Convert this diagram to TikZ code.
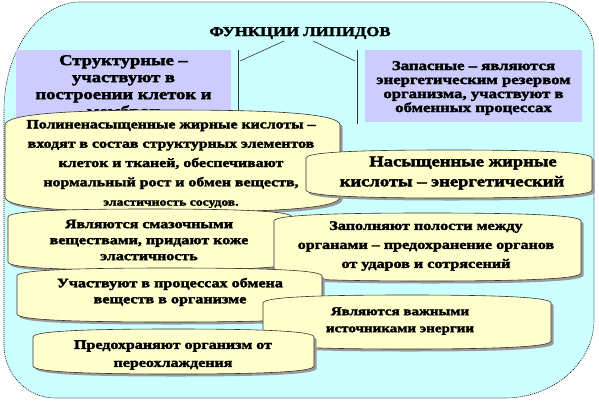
\documentclass[tikz,border=0pt]{standalone}
\usepackage{fontspec}
\newfontfamily\rfont{Liberation Serif Bold}[FakeStretch=1.24,FakeBold=2.5]
\definecolor{bgcyan}{HTML}{CCFFFF}
\definecolor{bubfill}{HTML}{FFFFCC}
\definecolor{lav}{HTML}{CCCCFF}
\definecolor{shad}{HTML}{9A9A9A}
\definecolor{bubline}{HTML}{333333}
\newcommand\bubshape[5]{% L T R B d
  \pgfmathsetmacro\bM{(#1+#3)/2}%
  \pgfmathsetmacro\bK{(#3-#1)*0.22}%
  \pgfmathsetmacro\bTa{#2+#5}%
  \pgfmathsetmacro\bTb{#2+0.2*#5}%
  \pgfmathsetmacro\bBa{#4-#5}%
  \pgfmathsetmacro\bBb{#4-0.2*#5}%
  \pgfmathsetmacro\bLk{#1+\bK}%
  \pgfmathsetmacro\bRk{#3-\bK}%
  \path[fill=shad] ({#1+2.5},{\bTa+2.5}) -- ({#1+2.5},{\bBa+2.5}) .. controls ({#1+2.5},{\bBb+2.5}) and ({\bLk+2.5},{#4+2.5}) .. ({\bM+2.5},{#4+2.5}) .. controls ({\bRk+2.5},{#4+2.5}) and ({#3+2.5},{\bBb+2.5}) .. ({#3+2.5},{\bBa+2.5}) -- ({#3+2.5},{\bTa+2.5}) .. controls ({#3+2.5},{\bTb+2.5}) and ({\bRk+2.5},{#2+2.5}) .. ({\bM+2.5},{#2+2.5}) .. controls ({\bLk+2.5},{#2+2.5}) and ({#1+2.5},{\bTb+2.5}) .. cycle;
  \path[bubstyle] (#1,\bTa) -- (#1,\bBa) .. controls (#1,\bBb) and (\bLk,#4) .. (\bM,#4) .. controls (\bRk,#4) and (#3,\bBb) .. (#3,\bBa) -- (#3,\bTa) .. controls (#3,\bTb) and (\bRk,#2) .. (\bM,#2) .. controls (\bLk,#2) and (#1,\bTb) .. cycle;
}
\begin{document}
\begin{tikzpicture}[x=1pt,y=-1pt,
  bubstyle/.style={fill=bubfill,draw=bubline,line width=0.6pt},
  txt/.style={font=\rfont,align=center,inner sep=0pt},
  conn/.style={draw=black!80,line width=0.6pt}]
\useasboundingbox (0,0) rectangle (599,402);
% background
\path[fill=bgcyan,draw=black,line width=0.6pt,dash pattern=on 1pt off 1pt]
  (4,110) -- (4,345) .. controls (4,374) and (27,398) .. (55,398)
  -- (505,398) .. controls (553,398) and (594,363) .. (594,320)
  -- (594,50) .. controls (594,24) and (571,2) .. (545,2)
  -- (80,2) .. controls (39,2) and (4,51) .. cycle;
% title
\node[txt,font=\rfont\fontsize{13.5}{15}\selectfont] (title) at (300,33) {ФУНКЦИИ ЛИПИДОВ};
% boxes
\node[fill=lav,minimum width=215,minimum height=72,inner sep=0pt,anchor=north west] (lbox) at (16,50) {};
\node[txt,font=\rfont\fontsize{15}{17}\selectfont,anchor=north] (ltext) at (123.5,55) {Структурные –\\участвуют в\\построении клеток и\\мембран};
\node[fill=lav,minimum width=217,minimum height=72,inner sep=0pt,anchor=north west] (rbox) at (365,50) {};
\node[txt,font=\rfont\fontsize{13.5}{14}\selectfont] (rtext) at (473.5,88) {Запасные – являются\\энергетическим резервом\\организма, участвуют в\\обменных процессах};
% connectors
\coordinate (lv1) at (238,50); \coordinate (lv2) at (238,118);
\coordinate (rv1) at (357,50); \coordinate (rv2) at (357,124);
\coordinate (ld) at (240,61); \coordinate (rd) at (355,61);
\coordinate (lt) at (284,41); \coordinate (rt) at (313,41);
\draw[conn] (lv1) -- (lv2);
\draw[conn] (rv1) -- (rv2);
\draw[conn] (lt) -- (ld);
\draw[conn] (rt) -- (rd);
% bubble 1
\bubshape{5}{110}{340}{212}{15}
\begin{scope}
\clip (5,110) rectangle (340,207);
\node[txt,font=\rfont\fontsize{12.8}{19.3}\selectfont] (b1) at (171,164) {Полиненасыщенные жирные кислоты –\\входят в состав структурных элементов\\клеток и тканей, обеспечивают\\нормальный рост и обмен веществ,\\{\fontsize{11}{12}\selectfont эластичность сосудов.}};
\end{scope}
% bubble 2
\bubshape{306}{150}{592}{198}{8}
\node[txt,font=\rfont\fontsize{15}{20}\selectfont] (b2) at (452,173) {\hspace*{22pt}Насыщенные жирные\\кислоты – энергетический};
% bubble 3
\bubshape{8}{209}{292}{270}{8}
\node[txt,font=\rfont\fontsize{12.9}{16}\selectfont] (b3) at (149,240) {Являются смазочными\\веществами, придают коже\\эластичность};
% bubble 4
\bubshape{274}{213}{581}{281}{8}
\node[txt,font=\rfont\fontsize{13}{19}\selectfont] (b4) at (426,246) {Заполняют полости между\\органами – предохранение органов\\от ударов и сотрясений};
% bubble 5
\bubshape{17}{268}{322}{322}{8}
\node[txt,font=\rfont\fontsize{13}{16}\selectfont] (b5) at (170,292) {Участвуют в процессах обмена\\веществ в организме};
% bubble 6
\bubshape{263}{295}{551}{349}{8}
\node[txt,font=\rfont\fontsize{12.1}{17}\selectfont] (b6) at (400,321) {Являются важными\\источниками энергии};
% bubble 7
\bubshape{33}{329}{314}{374}{8}
\node[txt,font=\rfont\fontsize{12.9}{18}\selectfont] (b7) at (173,355) {Предохраняют организм от\\переохлаждения};
\end{tikzpicture}
\end{document}
